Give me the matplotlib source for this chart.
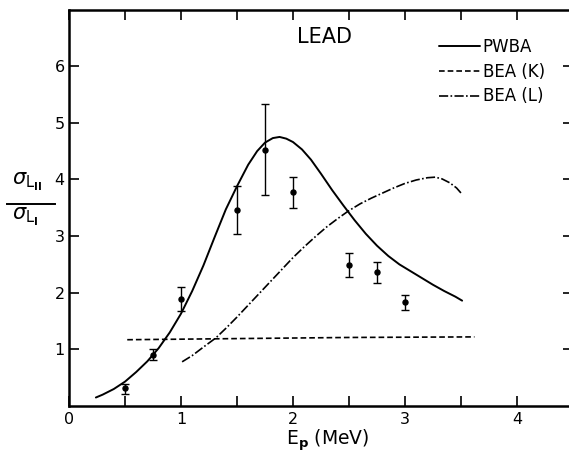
import matplotlib
matplotlib.use("Agg")
import matplotlib.pyplot as plt
from matplotlib.lines import Line2D
from matplotlib.ticker import MultipleLocator, FixedLocator

plt.rcParams['font.family'] = ['DejaVu Sans']
plt.rcParams['mathtext.fontset'] = 'dejavusans'

# Measured L_II / L_I ratios for lead
ep_data = [0.5, 0.75, 1.0, 1.5, 1.75, 2.0, 2.5, 2.75, 3.0]
ratio_data = [0.31, 0.90, 1.89, 3.46, 4.52, 3.77, 2.49, 2.36, 1.83]
err_low = [0.09, 0.09, 0.21, 0.43, 0.80, 0.28, 0.21, 0.19, 0.14]
err_high = [0.08, 0.10, 0.21, 0.42, 0.81, 0.27, 0.21, 0.19, 0.13]

# PWBA theory curve
pwba_x = [0.24, 0.3, 0.4, 0.5, 0.6, 0.7, 0.8, 0.9, 1.0, 1.1, 1.2, 1.3, 1.4,
          1.5, 1.6, 1.68, 1.75, 1.82, 1.88, 1.94, 2.0, 2.08, 2.16, 2.25, 2.35,
          2.45, 2.55, 2.65, 2.75, 2.85, 2.95, 3.05, 3.15, 3.25, 3.35, 3.45, 3.51]
pwba_y = [0.15, 0.20, 0.30, 0.43, 0.60, 0.79, 1.02, 1.30, 1.63, 2.03, 2.48,
          2.98, 3.47, 3.88, 4.26, 4.50, 4.65, 4.73, 4.75, 4.72, 4.66, 4.53,
          4.35, 4.10, 3.81, 3.54, 3.28, 3.04, 2.83, 2.65, 2.50, 2.38, 2.26,
          2.14, 2.03, 1.93, 1.86]

# BEA (K) curve
beak_x = [0.52, 1.5, 2.5, 3.62]
beak_y = [1.17, 1.19, 1.21, 1.22]

# BEA (L) curve
beal_x = [1.01, 1.1, 1.2, 1.31, 1.4, 1.5, 1.6, 1.7, 1.8, 1.9, 2.0, 2.1, 2.2,
          2.3, 2.4, 2.5, 2.6, 2.7, 2.8, 2.9, 3.0, 3.1, 3.2, 3.27, 3.33, 3.4,
          3.46, 3.5]
beal_y = [0.78, 0.89, 1.04, 1.20, 1.37, 1.57, 1.78, 1.99, 2.20, 2.41, 2.62,
          2.81, 2.99, 3.16, 3.31, 3.45, 3.57, 3.67, 3.76, 3.85, 3.93, 3.99,
          4.03, 4.04, 4.01, 3.94, 3.85, 3.76]

x_ticks = [0, 1, 2, 3, 4]
y_ticks = [1, 2, 3, 4, 5, 6]

W, H = 569, 454
fig = plt.figure(figsize=(W / 100, H / 100), dpi=100)
ax = fig.add_axes([69 / W, (H - 406) / H, (573 - 69) / W, (406 - 9.5) / H])
ax.set_xlim(0, 4.5)
ax.set_ylim(0, 7)

ax.plot(pwba_x, pwba_y, color='black', lw=1.4, solid_capstyle='round',
        solid_joinstyle='round', label='PWBA')
ax.plot(beak_x, beak_y, color='black', lw=1.2, dashes=(3.4, 1.8),
        label='BEA (K)')
ax.plot(beal_x, beal_y, color='black', lw=1.2, dashes=(5.5, 1.4, 1.0, 1.4),
        label='BEA (L)')
ax.errorbar(ep_data, ratio_data, yerr=[err_low, err_high], fmt='o',
            color='black', ms=3.6, elinewidth=1.0, capsize=2.6, capthick=1.0)

for s in ax.spines.values():
    s.set_linewidth(1.8)

ax.xaxis.set_major_locator(FixedLocator(x_ticks))
ax.xaxis.set_minor_locator(MultipleLocator(0.5))
ax.yaxis.set_major_locator(FixedLocator(y_ticks))
ax.tick_params(axis='both', which='both', direction='in', top=True, right=True,
               width=1.2, labelsize=11.5)
ax.tick_params(axis='both', which='major', length=7)
ax.tick_params(axis='x', which='minor', length=7)
ax.tick_params(axis='x', which='major', pad=4.5)
ax.tick_params(axis='y', which='major', pad=3)

ax.text(2.28, 6.51, 'LEAD', ha='center', va='center', fontsize=15)

ax.legend(loc='upper left', bbox_to_anchor=(3.30 / 4.5, 6.50 / 7),
          frameon=False, fontsize=12, handlelength=2.5,
          handletextpad=0.15, labelspacing=0.41, borderpad=0,
          borderaxespad=0)

ax.set_xlabel(r'E$_{\mathbf{p}}$ (MeV)', fontsize=13.5, va='baseline')
ax.xaxis.set_label_coords((328 - 69) / 504, (406 - 445) / 396.5)

# y-axis label drawn as a stacked fraction
fig.text(12 / W, 1 - 185 / H, r'$\sigma_{\mathrm{L}_{\mathbf{II}}}$',
         fontsize=15, ha='left', va='baseline')
fig.text(12 / W, 1 - 220 / H, r'$\sigma_{\mathrm{L}_{\mathbf{I}}}$',
         fontsize=15, ha='left', va='baseline')
fig.add_artist(Line2D([7 / W, 55 / W], [1 - 204 / H, 1 - 204 / H],
                      transform=fig.transFigure, color='black', lw=1.4))

fig.savefig('out.png', dpi=100)
